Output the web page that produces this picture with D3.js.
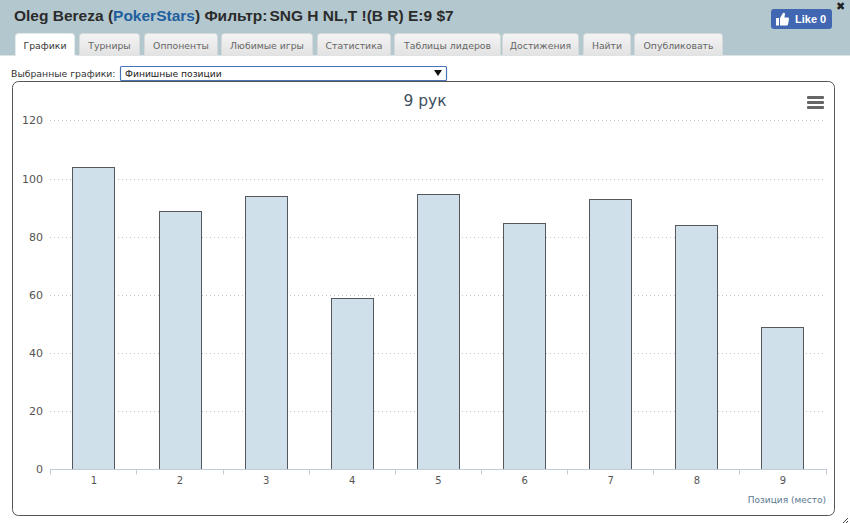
<!DOCTYPE html>
<html><head><meta charset="utf-8">
<script src="https://cdn.jsdelivr.net/npm/d3@7"></script>
<style>
html,body{margin:0;padding:0;background:#fff;overflow:hidden}
svg{display:block}
text{font-family:"DejaVu Sans",sans-serif}
</style></head><body>
<svg id="c" width="850" height="524"></svg>
<script>
const categories = ["1","2","3","4","5","6","7","8","9"];
const values = [104,89,94,59,95,85,93,84,49];
const yTicks = [0,20,40,60,80,100,120];
const tabNames = ["Графики","Турниры","Оппоненты","Любимые игры","Статистика","Таблицы лидеров","Достижения","Найти","Опубликовать"];
const tabEdges = [[15,75],[79,140],[144,218],[221,313],[317,391],[394,501],[502,579],[583,631],[634,723]];

const svg = d3.select("#c");
const defs = svg.append("defs");
const g = defs.append("linearGradient").attr("id","tabg").attr("x1",0).attr("x2",0).attr("y1",0).attr("y2",1);
g.append("stop").attr("offset","0").attr("stop-color","#f4f4f4");
g.append("stop").attr("offset","1").attr("stop-color","#e2e2e2");

// header
svg.append("rect").attr("width",850).attr("height",55).attr("fill","#b3c7ce");
const h = svg.append("text").attr("x",14).attr("y",21).style("font-family","'Liberation Sans',sans-serif")
  .style("font-size","15.5px").style("font-weight","bold").attr("fill","#2b2b2b");
h.append("tspan").text("Oleg Bereza (");
h.append("tspan").attr("fill","#1f5f9e").text("PokerStars");
h.append("tspan").text(") Фильтр:");
h.append("tspan").attr("dx",2).text("SNG H NL,T !(B R) E:9 $7");

// tabs
tabNames.forEach((t,i)=>{
  const [a,b]=tabEdges[i], active=i===0;
  svg.append("path").attr("d",`M${a+.5},56V36.5q0,-3 3,-3H${b-3.5}q3,0 3,3V56`)
    .attr("fill",active?"#fff":"url(#tabg)").attr("stroke",active?"#e4e9eb":"#d5d9da");
  svg.append("text").attr("x",(a+b)/2).attr("y",48.5).attr("text-anchor","middle")
    .style("font-size","9.3px").attr("fill",active?"#333":"#666").text(t);
});
svg.append("rect").attr("x",0).attr("y",55).attr("width",15).attr("height",1).attr("fill","#dfe3e4");
svg.append("rect").attr("x",76).attr("y",55).attr("width",774).attr("height",1).attr("fill","#dfe3e4");

// like button
svg.append("rect").attr("x",771).attr("y",9).attr("width",61).attr("height",20).attr("rx",3).attr("fill","#4267b2");
svg.append("path").attr("fill","#fff")
  .attr("d","M776,18h3v7.5h-3zM780,18l3,-5q1.6,-.8 2,1l-.6,3.5h3.6q1.2,.3 1,1.6l-1,5.4q-.3,1 -1.3,1H780z");
svg.append("text").attr("x",795).attr("y",23).style("font-family","'Liberation Sans',sans-serif")
  .style("font-size","11px").style("font-weight","bold").attr("fill","#fff").text("Like 0");
svg.append("text").attr("x",840.5).attr("y",9.5).attr("text-anchor","middle")
  .style("font-size","11px").style("font-weight","bold").attr("fill","#222").text("✖");

// selector
svg.append("text").attr("x",11).attr("y",77).style("font-size","9.3px").attr("fill","#333").text("Выбранные графики:");
svg.append("rect").attr("x",120.5).attr("y",66.5).attr("width",326).attr("height",14).attr("rx",1)
  .attr("fill","#fff").attr("stroke","#4a74b8").attr("stroke-width",1.2);
svg.append("text").attr("x",125).attr("y",77).style("font-size","9.2px").attr("fill","#222").text("Финишные позиции");
svg.append("path").attr("d","M434,70h8l-4,6z").attr("fill","#111");

// chart frame
svg.append("rect").attr("x",12.5).attr("y",81.5).attr("width",822).attr("height",434).attr("rx",6)
  .attr("fill","#fff").attr("stroke","#555");

svg.append("text").attr("x",425).attr("y",106).attr("text-anchor","middle")
  .style("font-size","15.5px").attr("fill","#3d4f60").text("9 рук");
[96,101,106].forEach(y=>svg.append("rect").attr("x",807).attr("y",y).attr("width",17).attr("height",3).attr("rx",1).attr("fill","#666"));

// scales
const x = d3.scaleBand().domain(categories).range([50.8,826.06]).paddingInner(0).paddingOuter(0);
const y = d3.scaleLinear().domain([0,120]).range([469,120.4]);
const barW = 42;

// grid
svg.append("g").selectAll("line").data(yTicks.filter(d=>d>0)).join("line")
  .attr("x1",50).attr("x2",826).attr("y1",d=>Math.round(y(d))+.5).attr("y2",d=>Math.round(y(d))+.5)
  .attr("stroke","#c4c4c4").attr("stroke-dasharray","1,3");

// y labels
svg.append("g").selectAll("text").data(yTicks).join("text")
  .attr("x",43).attr("y",d=>y(d)+4).attr("text-anchor","end")
  .style("font-size","11px").attr("fill","#555").text(d=>d);

// bars
svg.append("g").selectAll("rect").data(values).join("rect")
  .attr("x",(d,i)=>Math.floor(x(categories[i])+x.bandwidth()/2-barW/2)+.5)
  .attr("y",d=>Math.ceil(y(d))+.5)
  .attr("width",barW)
  .attr("height",d=>y(0)-Math.ceil(y(d)))
  .attr("fill","#d0e0ea").attr("stroke","#55595d");

// x axis
const ax = svg.append("g").attr("transform","translate(0,469.5)");
ax.append("line").attr("x1",50).attr("x2",827).attr("stroke","#c0ccd8");
ax.selectAll("line.t").data([...categories.map(c=>x(c)),x.range()[1]]).join("line").attr("class","t")
  .attr("x1",d=>Math.floor(d)+.5).attr("x2",d=>Math.floor(d)+.5).attr("y1",0).attr("y2",5).attr("stroke","#c0ccd8");
ax.selectAll("text").data(categories).join("text")
  .attr("x",d=>x(d)+x.bandwidth()/2).attr("y",14).attr("text-anchor","middle")
  .style("font-size","10px").attr("fill","#555").text(d=>d);

svg.append("text").attr("x",826).attr("y",503).attr("text-anchor","end")
  .style("font-size","9px").attr("fill","#5a7790").text("Позиция (место)");

// resize grip
svg.append("path").attr("d","M843,523l5,-5M846,523l2,-2").attr("stroke","#444").attr("fill","none");
</script>
</body></html>
